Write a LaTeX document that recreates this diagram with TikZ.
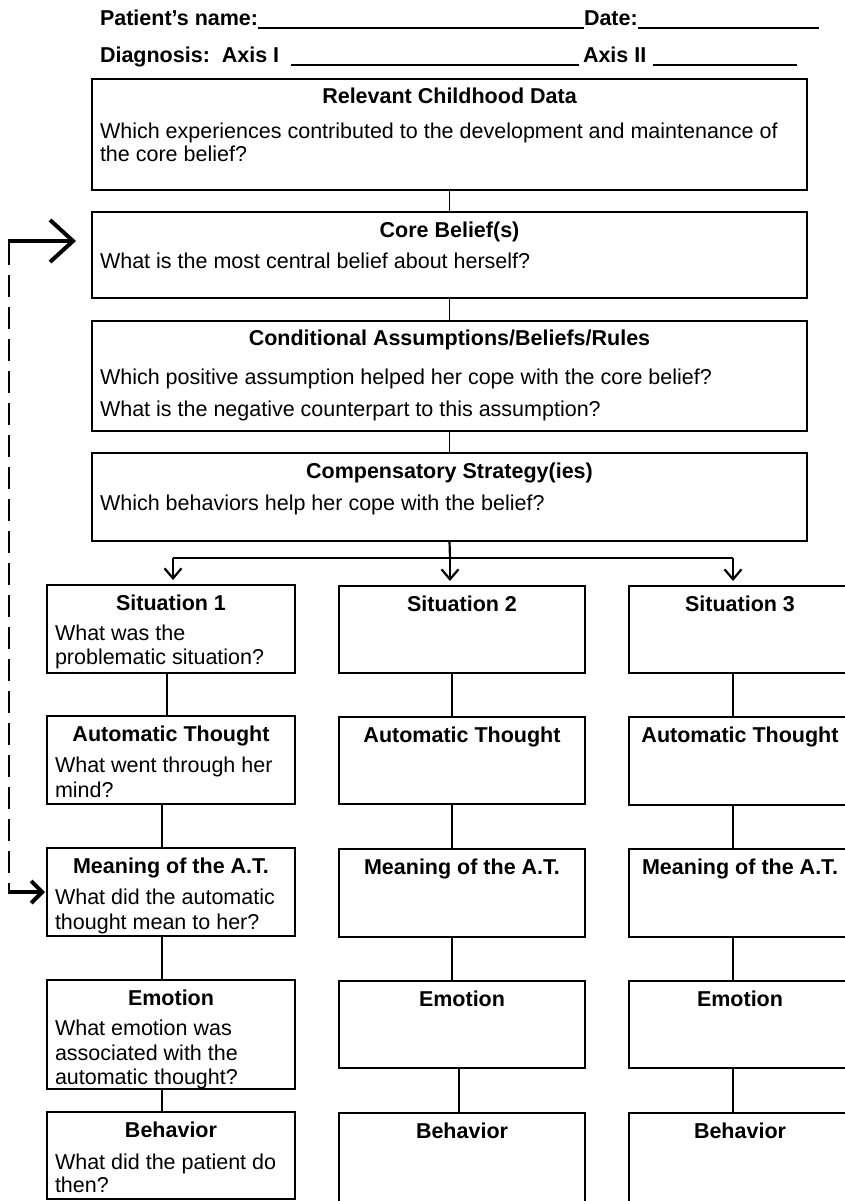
\documentclass[tikz,border=0pt]{standalone}
\usepackage{fontspec}
\setmainfont{Liberation Sans}
\usetikzlibrary{arrows.meta}
\begin{document}
\begin{tikzpicture}[x=1pt,y=-1pt,
  every node/.style={inner sep=0pt,outer sep=0pt,font=\fontsize{21.5}{24}\selectfont},
  box/.style 2 args={draw,line width=1.5pt,rectangle,anchor=north west,
    minimum width=#1,minimum height=#2},
  ttl/.style={anchor=base,font=\fontsize{21.5}{24}\selectfont\bfseries},
  hdr/.style={anchor=base west,font=\fontsize{21.5}{24}\selectfont\bfseries},
  txt/.style={anchor=base west},
  uline/.style={line width=1.4pt},
  link/.style={line width=1.5pt},
  split/.style={line width=2.2pt},
  splitarrow/.style={split,-{Straight Barb[length=10pt,width=17pt]},shorten >=5pt},
  fbdash/.style={line width=1.6pt,dash pattern=on 22pt off 10pt},
  fbthick/.style={line width=4pt}]
\useasboundingbox (0,0) rectangle (844,1201);

% ---- header ----
\node[hdr] (pn) at (100,26) {Patient’s name:};
\node[hdr] (dt) at (584,26) {Date:};
\coordinate (end1) at (819,28);
\draw[uline] ([yshift=-2pt]pn.base east) -- ([yshift=-2pt]dt.base west);
\draw[uline] ([yshift=-2pt]dt.base east) -- (end1);
\node[hdr] (dg) at (100,63) {Diagnosis:\ \ Axis I};
\node[hdr] (ax) at (583,63) {Axis II};
\coordinate (u2a) at (291,65);
\coordinate (u2b) at (579,65);
\coordinate (u2c) at (653,65);
\coordinate (u2d) at (797,65);
\draw[uline] (u2a) -- (u2b);
\draw[uline] (u2c) -- (u2d);

% ---- central column ----
\node[box={715pt}{111pt}] (rc) at (92,79) {};
\node[ttl] (rct) at (449.5,103.5) {Relevant Childhood Data};
\node[txt] (rc1) at (100,139) {Which experiences contributed to the development and maintenance of};
\node[txt] (rc2) at (100,162) {the core belief?};

\node[box={715pt}{86pt}] (cb) at (92,212) {};
\node[ttl] (cbt) at (449.5,237) {Core Belief(s)};
\node[txt] (cb1) at (100,268) {What is the most central belief about herself?};

\node[box={715pt}{110pt}] (ca) at (92,321) {};
\node[ttl] (cat) at (449.5,345.5) {Conditional Assumptions/Beliefs/Rules};
\node[txt] (ca1) at (100,384) {Which positive assumption helped her cope with the core belief?};
\node[txt] (ca2) at (100,416) {What is the negative counterpart to this assumption?};

\node[box={715pt}{88pt}] (cs) at (92,453) {};
\node[ttl] (cst) at (449.5,478.5) {Compensatory Strategy(ies)};
\node[txt] (cs1) at (100,510) {Which behaviors help her cope with the belief?};

\draw[link] (rc.south) -- (cb.north);
\draw[link] (cb.south) -- (ca.north);
\draw[link] (ca.south) -- (cs.north);

% ---- column 1 ----
\node[box={248pt}{88pt}] (s1) at (47,585) {};
\node[ttl] (s1t) at (171,610.5) {Situation 1};
\node[txt] (s1a) at (55,640) {What was the};
\node[txt] (s1b) at (55,664) {problematic situation?};

\node[box={248pt}{88pt}] (a1) at (47,716) {};
\node[ttl] (a1t) at (171,741.5) {Automatic Thought};
\node[txt] (a1a) at (55,772) {What went through her};
\node[txt] (a1b) at (55,797) {mind?};

\node[box={248pt}{88pt}] (m1) at (47,848) {};
\node[ttl] (m1t) at (171,873.5) {Meaning of the A.T.};
\node[txt] (m1a) at (55,904) {What did the automatic};
\node[txt] (m1b) at (55,929) {thought mean to her?};

\node[box={248pt}{109pt}] (e1) at (47,980) {};
\node[ttl] (e1t) at (171,1005.5) {Emotion};
\node[txt] (e1a) at (55,1035) {What emotion was};
\node[txt] (e1b) at (55,1060) {associated with the};
\node[txt] (e1c) at (55,1084) {automatic thought?};

\node[box={248pt}{87pt}] (b1) at (47,1112) {};
\node[ttl] (b1t) at (171,1137.5) {Behavior};
\node[txt] (b1a) at (55,1169) {What did the patient do};
\node[txt] (b1b) at (55,1192) {then?};

% ---- column 2 ----
\node[box={246pt}{87pt}] (s2) at (339,586) {};
\node[ttl] (s2t) at (462,611.5) {Situation 2};
\node[box={246pt}{87pt}] (a2) at (339,717) {};
\node[ttl] (a2t) at (462,742.5) {Automatic Thought};
\node[box={246pt}{88pt}] (m2) at (339,849) {};
\node[ttl] (m2t) at (462,874.5) {Meaning of the A.T.};
\node[box={246pt}{87pt}] (e2) at (339,981) {};
\node[ttl] (e2t) at (462,1006.5) {Emotion};
\node[box={246pt}{120pt}] (b2) at (339,1113) {};
\node[ttl] (b2t) at (462,1138.5) {Behavior};

% ---- column 3 ----
\node[box={222pt}{87pt}] (s3) at (629,586) {};
\node[ttl] (s3t) at (740,611.5) {Situation 3};
\node[box={222pt}{88pt}] (a3) at (629,717) {};
\node[ttl] (a3t) at (740,742.5) {Automatic Thought};
\node[box={222pt}{88pt}] (m3) at (629,849) {};
\node[ttl] (m3t) at (740,874.5) {Meaning of the A.T.};
\node[box={222pt}{87pt}] (e3) at (629,981) {};
\node[ttl] (e3t) at (740,1006.5) {Emotion};
\node[box={222pt}{120pt}] (b3) at (629,1113) {};
\node[ttl] (b3t) at (740,1138.5) {Behavior};

% ---- links inside the columns ----
\draw[link] ([xshift=-4pt]s1.south) -- ([xshift=-4pt]a1.north);
\draw[link] ([xshift=-9pt]a1.south) -- ([xshift=-9pt]m1.north);
\draw[link] ([xshift=-9pt]m1.south) -- ([xshift=-9pt]e1.north);
\draw[link] ([xshift=-9pt]e1.south) -- ([xshift=-9pt]b1.north);
\draw[link] ([xshift=-10pt]s2.south) -- ([xshift=-10pt]a2.north);
\draw[link] ([xshift=-10pt]a2.south) -- ([xshift=-10pt]m2.north);
\draw[link] ([xshift=-10pt]m2.south) -- ([xshift=-10pt]e2.north);
\draw[link] ([xshift=-3pt]e2.south) -- ([xshift=-3pt]b2.north);
\draw[link] ([xshift=-7pt]s3.south) -- ([xshift=-7pt]a3.north);
\draw[link] ([xshift=-7pt]a3.south) -- ([xshift=-7pt]m3.north);
\draw[link] ([xshift=-7pt]m3.south) -- ([xshift=-7pt]e3.north);
\draw[link] ([xshift=-7pt]e3.south) -- ([xshift=-7pt]b3.north);

% ---- fork from the compensatory strategies to the three situations ----
\coordinate (fork) at (450,558);
\coordinate (forkL) at (173,558);
\coordinate (forkR) at (733,558);
\draw[split] (cs.south) -- (fork);
\draw[split] (forkL) -- (forkR);
\draw[splitarrow] (forkL) -- (forkL |- s1.north);
\draw[splitarrow] (fork) -- (fork |- s2.north);
\draw[splitarrow] (forkR) -- (forkR |- s3.north);

% ---- feedback loop from the meaning of the A.T. to the core belief ----
\coordinate (fbT) at (9,241);
\coordinate (fbB) at (9,892);
\draw[fbdash] ([yshift=-2pt]fbT) -- (fbB);
\draw[fbthick,-{Straight Barb[length=23pt,width=42pt]},shorten >=16pt]
  ([xshift=-0.8pt]fbT) -- (cb.west |- fbT);
\draw[fbthick,-{Straight Barb[length=11pt,width=22pt]},shorten >=2pt]
  ([xshift=-0.8pt]fbB) -- (m1.west |- fbB);
\end{tikzpicture}
\end{document}
